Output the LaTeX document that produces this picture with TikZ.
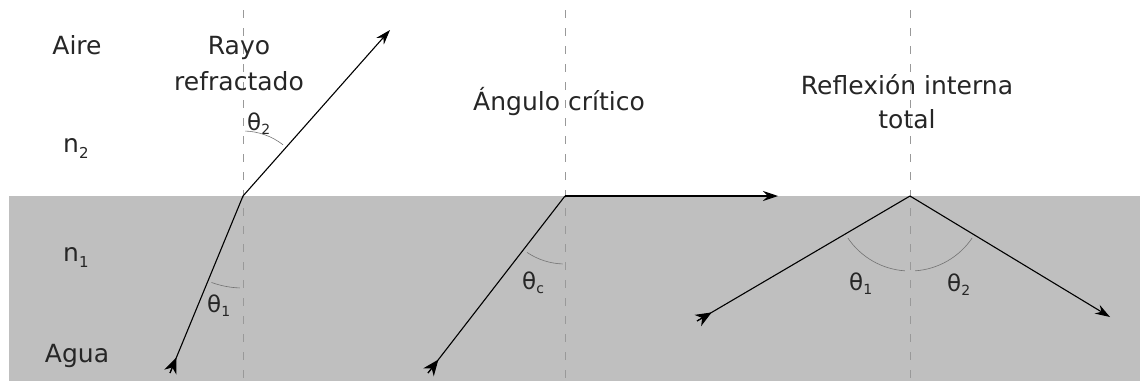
\documentclass[tikz,border=0pt]{standalone}
\usepackage{fontspec}
\setmainfont{DejaVu Sans}
\usetikzlibrary{arrows.meta,calc}
\tikzset{
  ray/.style={line width=1.1pt, black},
  tipend/.style={-{Stealth[length=15pt,width=10pt,inset=5pt]}},
  tipstart/.style={-{Stealth[length=16pt,width=13pt,inset=5pt]}},
  normal/.style={gray!80, line width=0.8pt, dash pattern=on 8pt off 10pt},
  anglearc/.style={gray!90!black, line width=0.6pt},
  lbl/.style={anchor=base, inner sep=0pt, font=\fontsize{25}{30}\selectfont, align=center, text=black!85},
  th/.style={anchor=base west, inner sep=0pt, text=black!85},
}
\newcommand{\thetasub}[1]{{\fontsize{23}{23}\selectfont θ\raisebox{-4pt}{\fontsize{14}{14}\selectfont #1}}}
\newcommand{\nsub}[1]{{\fontsize{25}{25}\selectfont n\raisebox{-6pt}{\fontsize{15}{15}\selectfont #1}}}
\begin{document}
\begin{tikzpicture}[x=1pt,y=-1pt]
\useasboundingbox (0,0) rectangle (1140,381);
\fill[black!25] (9,196) rectangle (1140,381);
% points
\coordinate (P1) at (243,196);
\coordinate (P2) at (565,196);
\coordinate (P3) at (910,196);
\coordinate (N1t) at (243,10); \coordinate (N1b) at (243,381);
\coordinate (N2t) at (565,10); \coordinate (N2b) at (565,381);
\coordinate (N3t) at (910,10); \coordinate (N3b) at (910,381);
\coordinate (I1) at (170,373);
\coordinate (R1) at (390,30);
\coordinate (I2) at (428,373);
\coordinate (R2) at (778,196);
\coordinate (I3) at (697,321);
\coordinate (R3) at (1110,317);
% normals
\draw[normal] (N1t) -- (N1b);
\draw[normal] (N2t) -- (N2b);
\draw[normal] (N3t) -- (N3b);
% angle arcs (angles negated because the y axis points down)
\draw[anglearc] ($(P1)+(-88:65)$) arc[start angle=-88,end angle=-52,radius=65];
\draw[anglearc] ($(P1)+(-250:92)$) arc[start angle=-250,end angle=-268,radius=92];
\draw[anglearc] ($(P2)+(-236:68)$) arc[start angle=-236,end angle=-268,radius=68];
\draw[anglearc] ($(P3)+(-214:75)$) arc[start angle=-214,end angle=-266,radius=75];
\draw[anglearc] ($(P3)+(-274:75)$) arc[start angle=-274,end angle=-326,radius=75];
% rays
\draw[ray] (I1) -- (P1);
\draw[ray,tipstart] (I1) -- ($(I1)!17pt!(P1)$);
\draw[ray,tipend] (P1) -- (R1);
\draw[ray] (I2) -- (P2);
\draw[ray,tipstart] (I2) -- ($(I2)!17pt!(P2)$);
\draw[ray,tipend] (P2) -- (R2);
\draw[ray] (I3) -- (P3);
\draw[ray,tipstart] (I3) -- ($(I3)!17pt!(P3)$);
\draw[ray,tipend] (P3) -- (R3);
% labels
\node[lbl] (aire) at (77,54) {Aire};
\node[lbl] (agua) at (77,362) {Agua};
\node[th] (n2) at (63,152) {\nsub{2}};
\node[th] (n1) at (63,261) {\nsub{1}};
\node[lbl] (rayo) at (239,54) {Rayo};
\node[lbl] (refr) at (239,90) {refractado};
\node[lbl] (crit) at (559,110) {Ángulo crítico};
\node[lbl] (refl) at (907,94) {Reflexión interna};
\node[lbl] (total) at (907,128) {total};
\node[th] (t2a) at (247,130) {\thetasub{2}};
\node[th] (t1a) at (207,312) {\thetasub{1}};
\node[th] (tc) at (522,289) {\thetasub{c}};
\node[th] (t1b) at (849,290) {\thetasub{1}};
\node[th] (t2b) at (947,291) {\thetasub{2}};
\end{tikzpicture}
\end{document}
